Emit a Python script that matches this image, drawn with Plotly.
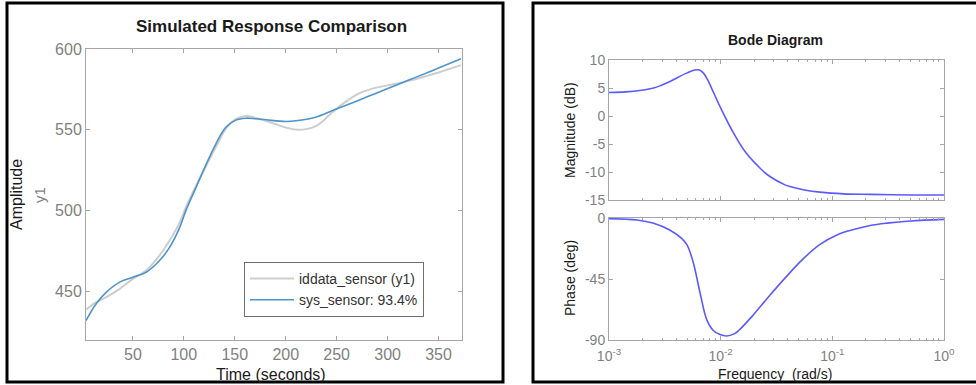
import plotly.graph_objects as go

W, H = 976, 385

# ---------------- Data: Simulated Response Comparison ----------------
time_s = [4, 14, 24, 37, 50, 63, 76, 86, 96, 102, 112, 122, 132, 141, 151, 161,
          170, 181, 200, 212, 230, 246, 258, 270, 285, 300, 315, 328, 350, 372]
iddata_sensor = [438.7, 443.4, 446.5, 451.6, 457.8, 463, 472.2, 481.5, 492.8, 502,
                 515.4, 527.8, 540, 550.4, 556.6, 558.6, 557.5, 555.5, 551.5, 550,
                 552.5, 561, 567, 572, 575.5, 577.5, 579.5, 581.5, 585.5, 590]
sys_sensor = [432, 442.4, 449.6, 455.8, 458.8, 461.9, 469, 477.3, 489.7, 500,
              514.4, 528.8, 542, 551.4, 556, 557.2, 556.9, 556.2, 555.2, 555.8,
              558, 562, 564.9, 567.9, 571.7, 575.5, 579.3, 582.6, 588.2, 594]
time_ticks = [50, 100, 150, 200, 250, 300, 350]
amp_ticks = [450, 500, 550, 600]

# ---------------- Data: Bode Diagram ----------------
mag_freq = [0.001, 0.00141, 0.00196, 0.00251, 0.00295, 0.00355, 0.00404, 0.00501,
            0.00589, 0.00646, 0.00698, 0.00759, 0.00832, 0.00986, 0.0126, 0.0166,
            0.0233, 0.0276, 0.0377, 0.0417, 0.0562, 0.0776, 0.126, 0.219, 0.501, 1.0]
mag_db = [4.2, 4.3, 4.6, 5.0, 5.5, 6.2, 6.8, 7.7, 8.2, 8.2, 7.7, 6.6, 4.9, 1.7,
          -2.5, -6.4, -9.6, -10.8, -12.3, -12.6, -13.2, -13.6, -13.9, -14.0, -14.1, -14.1]
phase_freq = [0.001, 0.00178, 0.00251, 0.00352, 0.00447, 0.00501, 0.00569, 0.00653,
              0.0075, 0.00859, 0.00986, 0.0113, 0.0132, 0.0145, 0.0196, 0.0234,
              0.0276, 0.038, 0.055, 0.0776, 0.11, 0.155, 0.219, 0.309, 0.501, 1.0]
phase_deg = [-0.5, -1.5, -3.9, -9, -15, -20, -33, -55, -75, -83, -86, -87, -85.5, -83,
             -71.5, -64, -57, -44, -30, -19.5, -12.5, -8.5, -5.5, -3.8, -2.2, -1]
freq_ticks = [0.001, 0.01, 0.1, 1]
freq_tick_text = ["10<sup>-3</sup>", "10<sup>-2</sup>", "10<sup>-1</sup>", "10<sup>0</sup>"]
mag_ticks = [10, 5, 0, -5, -10, -15]
mag_tick_text = ["10", "5", "0", "-5", "-10", "-15"]
phase_ticks = [0, -45, -90]
phase_tick_text = ["0", "-45", "-90"]


def px(x):
    return x / W


def py(y):
    return 1 - y / H


FONT = "Liberation Sans, Arial, sans-serif"
AX_GRAY = "#a6a6a6"
TXT_GRAY = "#7f7f7f"

fig = go.Figure()

fig.add_trace(go.Scatter(x=time_s, y=iddata_sensor, mode="lines", name="iddata_sensor (y1)",
                         line=dict(color="#cdcdcd", width=2, shape="spline"),
                         xaxis="x", yaxis="y"))
fig.add_trace(go.Scatter(x=time_s, y=sys_sensor, mode="lines", name="sys_sensor: 93.4%",
                         line=dict(color="#4d94cb", width=1.6, shape="spline"),
                         xaxis="x", yaxis="y"))
fig.add_trace(go.Scatter(x=mag_freq, y=mag_db, mode="lines", showlegend=False,
                         line=dict(color="#5a5aff", width=1.6, shape="spline"),
                         xaxis="x2", yaxis="y2"))
fig.add_trace(go.Scatter(x=phase_freq, y=phase_deg, mode="lines", showlegend=False,
                         line=dict(color="#5a5aff", width=1.6, shape="spline"),
                         xaxis="x3", yaxis="y3"))


def ax(size=14, **kw):
    d = dict(showline=True, linecolor=AX_GRAY, linewidth=1, mirror="ticks",
             ticks="inside", ticklen=4, tickcolor=AX_GRAY, showgrid=False,
             zeroline=False, automargin=False,
             tickfont=dict(family=FONT, size=size, color=TXT_GRAY))
    d.update(kw)
    return d


log_minor = dict(ticks="inside", ticklen=2, tickcolor=AX_GRAY, dtick="D1", showgrid=False)

fig.update_layout(
    width=W, height=H,
    margin=dict(l=0, r=0, t=0, b=0, pad=0, autoexpand=False),
    paper_bgcolor="white", plot_bgcolor="white",
    font=dict(family=FONT),
    showlegend=True,
    legend=dict(x=px(244), y=py(262), xanchor="left", yanchor="top",
                bgcolor="white", bordercolor="#6e6e6e", borderwidth=1,
                font=dict(family=FONT, size=14, color="#333333"),
                itemwidth=44, tracegroupgap=0),
    xaxis=ax(16, domain=[px(86), px(462)], range=[4, 373], anchor="y", tickvals=time_ticks),
    yaxis=ax(16, domain=[py(340), py(49)], range=[420, 600], anchor="x", tickvals=amp_ticks),
    xaxis2=ax(14, domain=[px(609), px(944)], type="log", range=[-3, 0], anchor="y2",
              tickvals=freq_ticks, showticklabels=False, minor=log_minor),
    yaxis2=ax(14, domain=[py(200), py(60)], range=[-15, 10], anchor="x2",
              tickvals=mag_ticks, ticktext=mag_tick_text),
    xaxis3=ax(14, domain=[px(609), px(944)], type="log", range=[-3, 0], anchor="y3",
              tickvals=freq_ticks, ticktext=freq_tick_text, minor=log_minor,
              ticklabelstandoff=3),
    yaxis3=ax(14, domain=[py(340), py(218)], range=[-90, 0], anchor="x3",
              tickvals=phase_ticks, ticktext=phase_tick_text),
)

annotations = [
    dict(text="<b>Simulated Response Comparison</b>", x=px(271), y=py(26),
         font=dict(size=17, color="#1a1a1a")),
    dict(text="Amplitude", x=px(17), y=py(195), textangle=-90,
         font=dict(size=16, color="#1a1a1a")),
    dict(text="y1", x=px(40), y=py(195), textangle=-90,
         font=dict(size=15, color=TXT_GRAY)),
    dict(text="Time (seconds)", x=px(271), y=py(374),
         font=dict(size=16, color="#1a1a1a")),
    dict(text="<b>Bode Diagram</b>", x=px(775), y=py(40),
         font=dict(size=14, color="#1a1a1a")),
    dict(text="Magnitude (dB)", x=px(570), y=py(130), textangle=-90,
         font=dict(size=14, color="#1a1a1a")),
    dict(text="Phase (deg)", x=px(570), y=py(278), textangle=-90,
         font=dict(size=14, color="#1a1a1a")),
    dict(text="Frequency  (rad/s)", x=px(775), y=py(374),
         font=dict(size=14, color="#1a1a1a")),
]
for a in annotations:
    a.update(xref="paper", yref="paper", showarrow=False, xanchor="center", yanchor="middle")
    a["font"]["family"] = FONT
fig.update_layout(annotations=annotations)

fig.update_layout(shapes=[
    dict(type="rect", xref="paper", yref="paper", x0=px(7), x1=px(503), y0=py(382), y1=py(3),
         line=dict(color="black", width=3), layer="above"),
    dict(type="rect", xref="paper", yref="paper", x0=px(533), x1=px(990), y0=py(382), y1=py(3),
         line=dict(color="black", width=3), layer="above"),
])

fig.write_html("out.html", config={"displayModeBar": False},
               post_script="document.body.style.margin='0';document.body.style.overflow='hidden';")
